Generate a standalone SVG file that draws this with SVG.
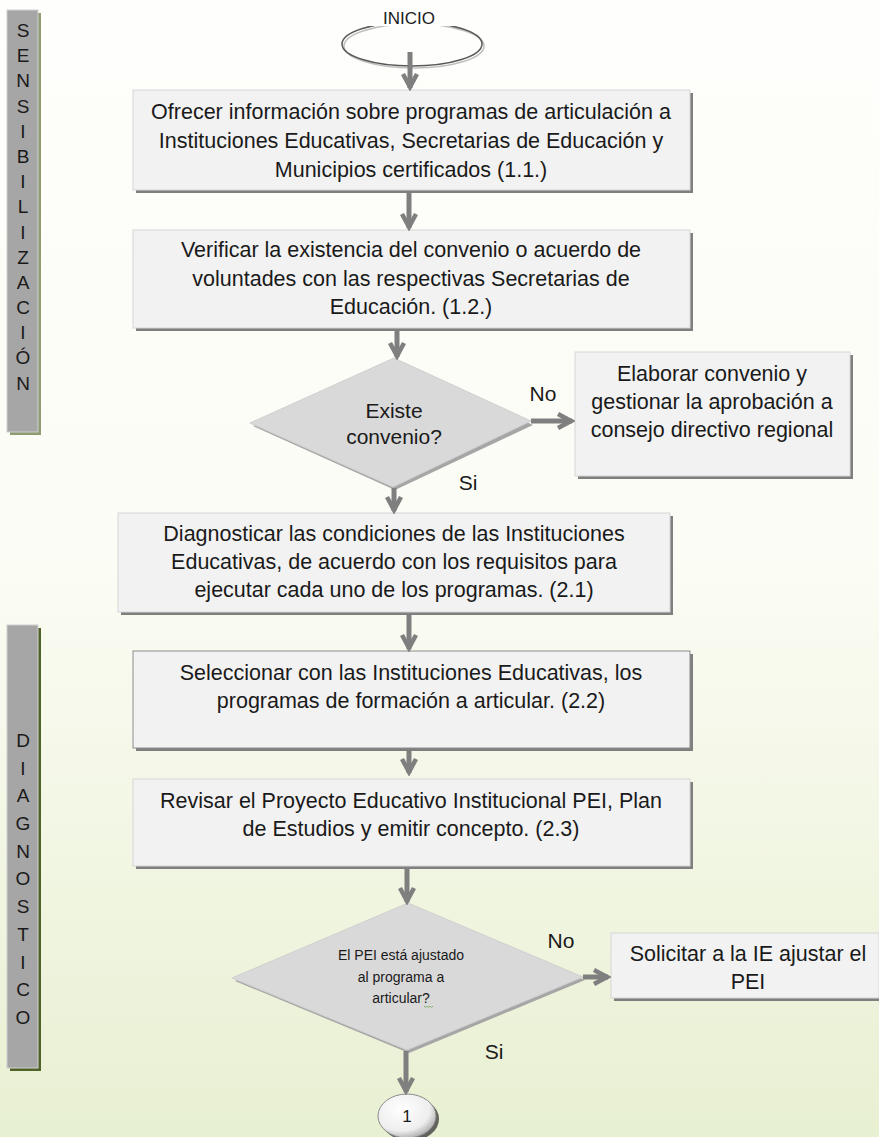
<svg xmlns="http://www.w3.org/2000/svg" width="879" height="1137" viewBox="0 0 879 1137">
<defs>
<linearGradient id="bg" x1="0" y1="0" x2="0" y2="1">
<stop offset="0" stop-color="#fefefc"/>
<stop offset="0.5" stop-color="#fbfcf4"/>
<stop offset="1" stop-color="#e8f0d2"/>
</linearGradient>
<radialGradient id="circ" cx="0.4" cy="0.35" r="0.7">
<stop offset="0" stop-color="#ffffff"/>
<stop offset="0.7" stop-color="#eeeeee"/>
<stop offset="1" stop-color="#a6a6a6"/>
</radialGradient>
<marker id="ah" viewBox="0 0 20 18" refX="17" refY="9" markerWidth="20" markerHeight="18" markerUnits="userSpaceOnUse" orient="auto">
<path d="M3,2 L16,9 L3,16" fill="none" stroke="#7f7f7f" stroke-width="4.5" stroke-linejoin="miter"/>
</marker>
<style>
.box{fill:#f2f2f2;stroke:#d6d6d6;stroke-width:1}
.shadow{fill:#7f7f7f}
.dia{fill:#d9d9d9;stroke:#cfcfcf;stroke-width:1}
.t{font-family:"Liberation Sans",Arial,sans-serif;fill:#1a1a1a;text-anchor:middle}
.t19{font-size:21.5px}
.t18{font-size:21px}
.t14{font-size:14px}
.side{fill:#a6a6a6;stroke:#d0d0d0;stroke-width:1}
.sl{font-family:"Liberation Sans",Arial,sans-serif;font-size:19px;fill:#1a1a1a;text-anchor:middle}
.conn{stroke:#7f7f7f;stroke-width:5;fill:none;marker-end:url(#ah)}
</style>
</defs>
<rect x="0" y="0" width="879" height="1137" fill="url(#bg)"/>

<g id="lane-sensibilizacion">
<rect x="10" y="13" width="31" height="422" fill="#8f9c72"/>
<rect class="side" x="7" y="10" width="31" height="422"/>
<text class="sl" x="23" y="37">S</text>
<text class="sl" x="23" y="62">E</text>
<text class="sl" x="23" y="87">N</text>
<text class="sl" x="23" y="113">S</text>
<text class="sl" x="23" y="138">I</text>
<text class="sl" x="23" y="163">B</text>
<text class="sl" x="23" y="188">I</text>
<text class="sl" x="23" y="213">L</text>
<text class="sl" x="23" y="239">I</text>
<text class="sl" x="23" y="264">Z</text>
<text class="sl" x="23" y="289">A</text>
<text class="sl" x="23" y="314">C</text>
<text class="sl" x="23" y="339">I</text>
<text class="sl" x="23" y="364">Ó</text>
<text class="sl" x="23" y="390">N</text>
</g>

<g id="lane-diagnostico">
<rect x="10" y="628" width="31" height="443" fill="#4f6228"/>
<rect class="side" x="7" y="625" width="31" height="443"/>
<text class="sl" x="23" y="747">D</text>
<text class="sl" x="23" y="775">I</text>
<text class="sl" x="23" y="802">A</text>
<text class="sl" x="23" y="830">G</text>
<text class="sl" x="23" y="858">N</text>
<text class="sl" x="23" y="885">O</text>
<text class="sl" x="23" y="913">S</text>
<text class="sl" x="23" y="941">T</text>
<text class="sl" x="23" y="969">I</text>
<text class="sl" x="23" y="996">C</text>
<text class="sl" x="23" y="1024">O</text>
</g>

<g id="inicio">
<ellipse cx="414" cy="46" rx="70" ry="22" fill="none" stroke="#bfbfbf" stroke-width="1.5"/>
<ellipse cx="412" cy="44" rx="70" ry="22" fill="none" stroke="#595959" stroke-width="1.5"/>
<rect x="360" y="10" width="104" height="16" fill="#fefefc"/>
<text class="t" x="409" y="24" font-size="17">INICIO</text>
</g>

<g id="n1">
<rect class="shadow" x="136" y="93" width="557" height="100"/>
<rect class="box" x="133" y="90" width="557" height="100"/>
<text class="t t19" x="411" y="119">Ofrecer información sobre programas de articulación a</text>
<text class="t t19" x="411" y="148">Instituciones Educativas, Secretarias de Educación y</text>
<text class="t t19" x="411" y="177">Municipios certificados (1.1.)</text>
</g>

<g id="n2">
<rect class="shadow" x="136" y="233" width="557" height="98"/>
<rect class="box" x="133" y="230" width="557" height="98"/>
<text class="t t19" x="411" y="257">Verificar la existencia del convenio o acuerdo de</text>
<text class="t t19" x="411" y="286">voluntades con las respectivas Secretarias de</text>
<text class="t t19" x="411" y="314">Educación. (1.2.)</text>
</g>

<g id="d1">
<polygon points="396,361 533,425 395,490 253,426" fill="#a6a6a6"/>
<polygon class="dia" points="394,358 531,421 393,487 250,423"/>
<text class="t t18" x="394" y="418">Existe</text>
<text class="t t18" x="394" y="444">convenio?</text>
</g>

<g id="n3">
<rect class="shadow" x="578" y="355" width="275" height="124"/>
<rect class="box" x="575" y="352" width="275" height="124"/>
<text class="t t19" x="712" y="381">Elaborar convenio y</text>
<text class="t t19" x="712" y="409">gestionar la aprobación a</text>
<text class="t t19" x="712" y="437">consejo directivo regional</text>
</g>

<g id="n4">
<rect class="shadow" x="121" y="516" width="552" height="99"/>
<rect class="box" x="118" y="513" width="552" height="99"/>
<text class="t t19" x="394" y="541">Diagnosticar las condiciones de las Instituciones</text>
<text class="t t19" x="394" y="569">Educativas, de acuerdo con los requisitos para</text>
<text class="t t19" x="394" y="597">ejecutar cada uno de los programas. (2.1)</text>
</g>

<g id="n5">
<rect class="shadow" x="136" y="654" width="557" height="97"/>
<rect x="133" y="651" width="557" height="97" fill="#f2f2f2" stroke="#8c8c8c" stroke-width="1"/>
<text class="t t19" x="411" y="680">Seleccionar con las Instituciones Educativas, los</text>
<text class="t t19" x="411" y="708">programas de formación a articular. (2.2)</text>
</g>

<g id="n6">
<rect class="shadow" x="136" y="782" width="557" height="87"/>
<rect class="box" x="133" y="779" width="557" height="87"/>
<text class="t t19" x="411" y="808">Revisar el Proyecto Educativo Institucional PEI, Plan</text>
<text class="t t19" x="411" y="836">de Estudios y emitir concepto. (2.3)</text>
</g>

<g id="d2">
<polygon points="410,906 585,980 409,1053 235,981" fill="#a6a6a6"/>
<polygon class="dia" points="408,903 583,977 407,1050 232,978"/>
<text class="t t14" x="401" y="960">El PEI está ajustado</text>
<text class="t t14" x="401" y="982">al programa a</text>
<text class="t t14" x="401" y="1003">articular?</text>
<path d="M424,1006 l1.5,1.5 l1.5,-1.5 l1.5,1.5 l1.5,-1.5 l1.5,1.5 l1.5,-1.5" fill="none" stroke="#6aa84f" stroke-width="0.8"/>
</g>

<g id="n7">
<rect class="shadow" x="614" y="936" width="268" height="65"/>
<rect class="box" x="611" y="933" width="268" height="65"/>
<text class="t t19" x="748" y="961">Solicitar a la IE ajustar el</text>
<text class="t t19" x="748" y="989">PEI</text>
</g>

<g id="fin">
<ellipse cx="410" cy="1119" rx="29" ry="22" fill="#3f3f3f" opacity="0.8"/>
<ellipse cx="407" cy="1116" rx="29" ry="22" fill="url(#circ)" stroke="#8c8c8c" stroke-width="1"/>
<text class="t" x="407" y="1122" font-size="17">1</text>
</g>

<g id="connectors">
<line class="conn" x1="410" y1="52" x2="410" y2="88"/>
<line class="conn" x1="409" y1="193" x2="409" y2="228"/>
<line class="conn" x1="397" y1="331" x2="397" y2="357"/>
<line class="conn" x1="531" y1="421" x2="572" y2="421"/>
<line class="conn" x1="394" y1="488" x2="394" y2="511"/>
<line class="conn" x1="409" y1="615" x2="409" y2="649"/>
<line class="conn" x1="409" y1="751" x2="409" y2="773"/>
<line class="conn" x1="407" y1="869" x2="407" y2="902"/>
<line class="conn" x1="583" y1="977" x2="608" y2="977"/>
<line class="conn" x1="406" y1="1051" x2="406" y2="1092"/>
<text class="t t18" x="543" y="401">No</text>
<text class="t t18" x="468" y="490">Si</text>
<text class="t t18" x="561" y="948">No</text>
<text class="t t18" x="494" y="1059">Si</text>
</g>
</svg>
